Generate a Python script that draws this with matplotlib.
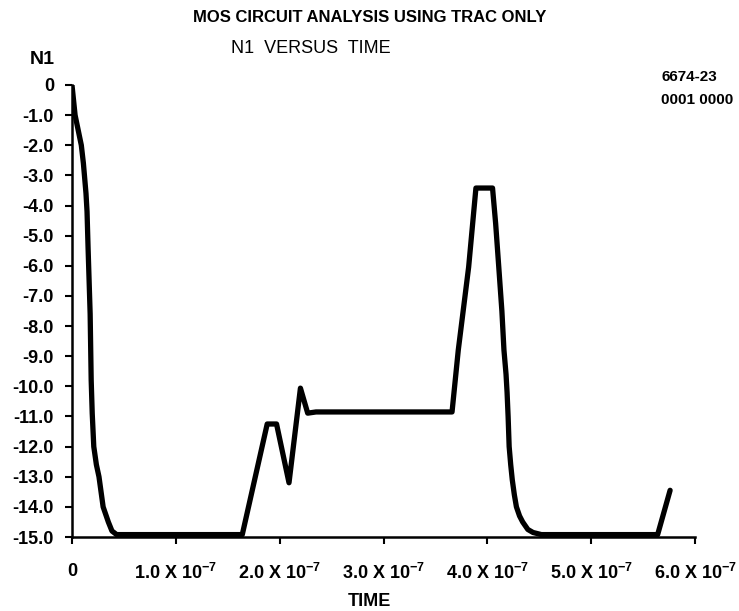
import matplotlib.pyplot as plt

t = [0, 0.015, 0.03, 0.06, 0.09, 0.11, 0.12, 0.135, 0.145, 0.155, 0.165, 0.175, 0.185,
     0.195, 0.21, 0.235, 0.26, 0.28, 0.30, 0.35, 0.385, 0.43,
     1.64, 1.88, 1.97, 2.09, 2.20, 2.27, 2.35, 3.66, 3.72, 3.82, 3.89, 4.05, 4.08, 4.11,
     4.14, 4.16, 4.18, 4.19, 4.20, 4.21, 4.225, 4.24, 4.26, 4.28, 4.31, 4.34, 4.39, 4.44,
     4.52, 5.64, 5.76]
n1 = [0, -0.5, -1.0, -1.5, -2.0, -2.6, -3.0, -3.6, -4.2, -5.4, -6.5, -7.6, -9.8,
      -10.9, -12.0, -12.6, -13.0, -13.5, -14.0, -14.5, -14.8, -14.92,
      -14.92, -11.25, -11.25, -13.2, -10.06, -10.89, -10.85, -10.85, -8.8, -6.04, -3.42,
      -3.42, -4.6, -6.04, -7.5, -8.8, -9.6, -10.2, -11.0, -12.0, -12.6, -13.1, -13.6,
      -14.0, -14.3, -14.5, -14.75, -14.85, -14.92, -14.92, -13.45]

yticks = [0] + [-float(i) for i in range(1, 16)]
ylabels = ['0'] + ['-%.1f' % i for i in range(1, 16)]
xticks = [0, 1, 2, 3, 4, 5, 6]
xlabels = ['0'] + [r'%d.0 X 10$^{-7}$' % i for i in range(1, 7)]

plt.rcParams['font.family'] = ['Liberation Sans', 'DejaVu Sans']
plt.rcParams['mathtext.fontset'] = 'custom'
plt.rcParams['mathtext.rm'] = 'Liberation Sans:bold'
plt.rcParams['mathtext.default'] = 'rm'

fig = plt.figure(figsize=(7.39, 6.11), dpi=100)
ax = fig.add_axes([0.0974, 0.1211, 0.8431, 0.7398])

ax.plot([v * 1e-7 for v in t], n1, color='black', lw=3.8, solid_joinstyle='round',
        solid_capstyle='round')

ax.set_xlim(0, 6e-7)
ax.set_ylim(-15, 0)
ax.set_yticks(yticks)
ax.set_yticklabels(ylabels, fontsize=13, fontweight='bold')
ax.set_xticks([v * 1e-7 for v in xticks])
ax.set_xticklabels(xlabels, fontsize=13, fontweight='bold')
ax.tick_params(axis='y', direction='out', length=5, width=1.5, pad=8)
ax.tick_params(axis='x', direction='out', length=5, width=1.5, pad=14)

for s in ['top', 'right']:
    ax.spines[s].set_visible(False)
for s in ['left', 'bottom']:
    ax.spines[s].set_linewidth(1.8)

fig.text(0.5, 0.971, 'MOS CIRCUIT ANALYSIS USING TRAC ONLY', ha='center', va='center',
         fontsize=12, fontweight='bold')
fig.text(0.057, 0.902, 'N1', ha='center', va='center', fontsize=14, fontweight='bold')
fig.text(0.42, 0.921, 'N1  VERSUS  TIME', ha='center', va='center', fontsize=13)
fig.text(0.895, 0.874, '6674-23', ha='left', va='center', fontsize=11, fontweight='bold')
fig.text(0.895, 0.836, '0001 0000', ha='left', va='center', fontsize=11, fontweight='bold')
fig.text(0.5, 0.016, 'TIME', ha='center', va='center', fontsize=13, fontweight='bold')

plt.savefig('out.png', dpi=100)
